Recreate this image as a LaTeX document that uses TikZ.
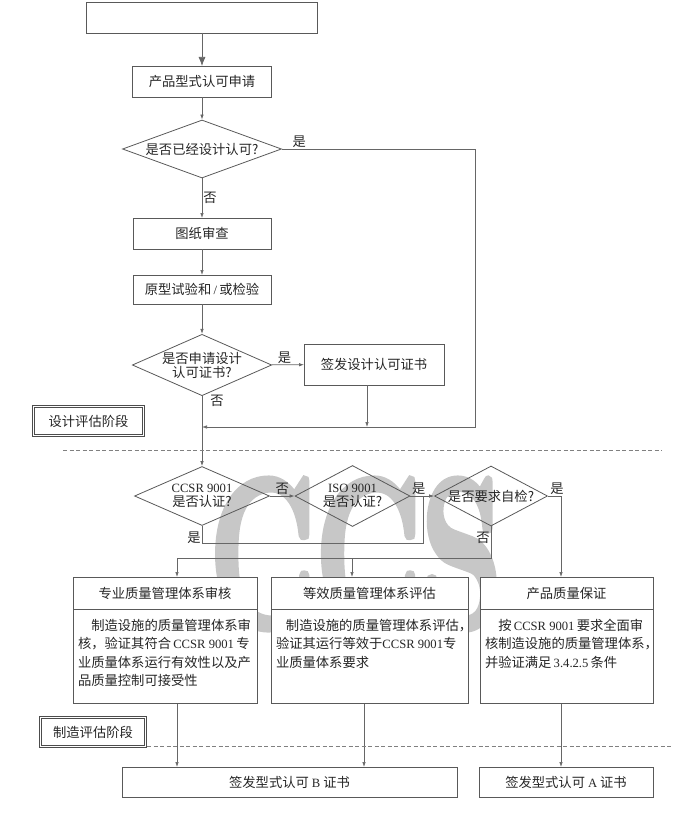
\documentclass[tikz,border=0pt]{standalone}
\usepackage{fontspec}
\setmainfont{Noto Sans CJK SC}
\newfontfamily\latinfont{Liberation Serif}[Scale=0.95]
\usetikzlibrary{shapes.geometric,arrows.meta,positioning}
\newcommand{\lat}[1]{{\latinfont #1}}
\newcommand{\fs}{\fontsize{13.3}{14}\selectfont}
\newcommand{\markfont}{\fontsize{210}{210}\fontfamily{lmr}\fontseries{bx}\selectfont}
\newcommand{\heavy}[1]{\special{pdf:literal direct 2 Tr 8 w}#1\special{pdf:literal direct 0 Tr}}
\newcommand{\boxtext}[2]{\parbox[c][74pt][t]{#1}{\fontsize{13.3}{18.3}\selectfont #2}}

\begin{document}
\begin{tikzpicture}[
                x=1pt, y=-1pt,
                >={Latex[length=5pt,width=3.5pt]},
                every node/.style={font=\fs, text=black!85},
                box/.style={draw=black!65, rectangle, fill=white, line width=0.8pt, inner sep=0pt, outer sep=0pt},
                body/.style={box, inner xsep=5pt, inner ysep=10.3pt},
                decision/.style={draw=black!65, diamond, line width=0.8pt, inner sep=0pt, align=center},
                stagebox/.style={draw=black!70, double, double distance=1.5pt, line width=0.7pt, fill=white, minimum height=29pt},
                conn/.style={draw=black!60, line width=0.7pt},
                lbl/.style={inner sep=1pt},
                stageline/.style={draw=black!50, line width=0.7pt, dash pattern=on 4pt off 2.5pt}
                ]
                \useasboundingbox (0,0) rectangle (700,816);

                \node[font=\markfont, text=black!22, xscale=0.62, inner sep=0pt] (wmark) at (356,554) {\heavy{CCS}};

                \node[box, minimum width=231pt, minimum height=31pt] (top) at (202,17.5) {};
                \node[box, minimum width=139pt, minimum height=31pt] (apply) at (202,81.5) {产品型式认可申请};
                \node[decision, aspect=2.74, minimum width=159pt, minimum height=58pt] (d1) at (202,149) {是否已经设计认可?};
                \node[box, minimum width=138pt, minimum height=31pt] (drawing) at (202,233.5) {图纸审查};
                \node[box, minimum width=138pt, minimum height=29pt] (proto) at (202,289.5) {原型试验和\,\lat{/}\,或检验};
                \node[decision, aspect=2.27, minimum width=136pt, minimum height=60pt] (d2) at (202,365) {是否申请设计\\认可证书?};
                \node[box, minimum width=140pt, minimum height=41pt] (cert) at (374,364.5) {签发设计认可证书};
                \node[stagebox, minimum width=110pt] (stage1) at (88.5,421) {设计评估阶段};

                \node[decision, aspect=2.29, minimum width=135pt, minimum height=59pt] (d3) at (202,496) {\lat{CCSR 9001}\\是否认证?};
                \node[decision, aspect=1.89, minimum width=115pt, minimum height=61pt] (d4) at (352.5,496) {\lat{ISO 9001}\\是否认证?};
                \node[decision, aspect=1.88, minimum width=113pt, minimum height=60pt] (d5) at (491,496) {是否要求自检?};

                \node[box, minimum width=184pt, minimum height=32pt] (h1) at (165,593) {专业质量管理体系审核};
                \node[box, minimum width=197pt, minimum height=32pt] (h2) at (369.5,593) {等效质量管理体系评估};
                \node[box, minimum width=173pt, minimum height=32pt] (h3) at (566.5,593) {产品质量保证};
                \node[body, below=0pt of h1] (b1) {\boxtext{174pt}{\hspace*{1em}制造设施的质量管理体系审\\
                    核，验证其符合\,\lat{CCSR~9001}\,专\\
                    业质量体系运行有效性以及产\\
                    品质量控制可接受性}};
                \node[body, below=0pt of h2] (b2) {\boxtext{187pt}{\hspace*{0.75em}制造设施的质量管理体系评估，\\
                    验证其运行等效于\lat{CCSR~9001}专\\
                    业质量体系要求}};
                \node[body, below=0pt of h3] (b3) {\boxtext{163pt}{\hspace*{1em}按\,\lat{CCSR~9001}\,要求全面审\\
                    核制造设施的质量管理体系，\\
                    并验证满足\,\lat{3.4.2.5}\,条件}};

                \node[stagebox, minimum width=105pt] (stage2) at (93,732) {制造评估阶段};
                \node[box, minimum width=335pt, minimum height=30pt] (certB) at (289.5,782) {签发型式认可~\lat{B}~证书};
                \node[box, minimum width=174pt, minimum height=30pt] (certA) at (566,782) {签发型式认可~\lat{A}~证书};

                \coordinate (skip) at (475,427);
                \coordinate (meet) at (423,543);
                \coordinate (selfyes) at (561,496);
                \coordinate (fork1) at (177,558);
                \coordinate (fork2) at (352,558);

                % design stage
                \draw[conn,-{Latex[length=9pt,width=7pt]}] (top) -- (apply);
                \draw[conn,->] (apply) -- (d1);
                \draw[conn,->] (d1) -- node[lbl, right]{否} (drawing);
                \draw[conn,->] (d1.east) -- node[lbl, above, pos=0.09]{是} (d1.east -| skip) -- (skip) -- (skip -| d2.south);
                \draw[conn,->] (drawing) -- (proto);
                \draw[conn,->] (proto) -- (d2);
                \draw[conn,->] (d2) -- node[lbl, above, pos=0.4]{是} (cert);
                \draw[conn,->] ([xshift=-7pt]cert.south) -- ([xshift=-7pt]cert.south |- skip);
                \draw[conn,->] (d2) -- node[lbl, anchor=north west, pos=0, xshift=7pt, yshift=2pt]{否} (d3);

                % manufacturing stage
                \draw[conn,->] (d3) -- node[lbl, above]{否} (d4);
                \draw[conn,->] (d4) -- node[lbl, above, pos=0.35]{是} (d5);
                \draw[conn] (d3.south) -- node[lbl, left, pos=0.72]{是} (d3.south |- meet) -- (meet) -- (meet |- d4.east);
                \draw[conn,->] (d5.east) -- node[lbl, above, pos=0.7]{是} (selfyes) -- (selfyes |- h3.north);
                \draw[conn] (d5.south) -- node[lbl, left, pos=0.35]{否} (d5.south |- fork1) -- (fork1);
                \draw[conn,->] (fork1) -- (fork1 |- h1.north);
                \draw[conn,->] (fork2) -- (fork2 |- h2.north);

                \draw[conn,->] (fork1 |- b1.south) -- (fork1 |- certB.north);
                \draw[conn,->] ([xshift=-5.5pt]b2.south) -- ([xshift=-5.5pt]b2.south |- certB.north);
                \draw[conn,->] (selfyes |- b3.south) -- (selfyes |- certA.north);

                \draw[stageline] (63,450) -- (662,450);
                \draw[stageline] (147,746) -- (673,746);
            \end{tikzpicture}
\end{document}
